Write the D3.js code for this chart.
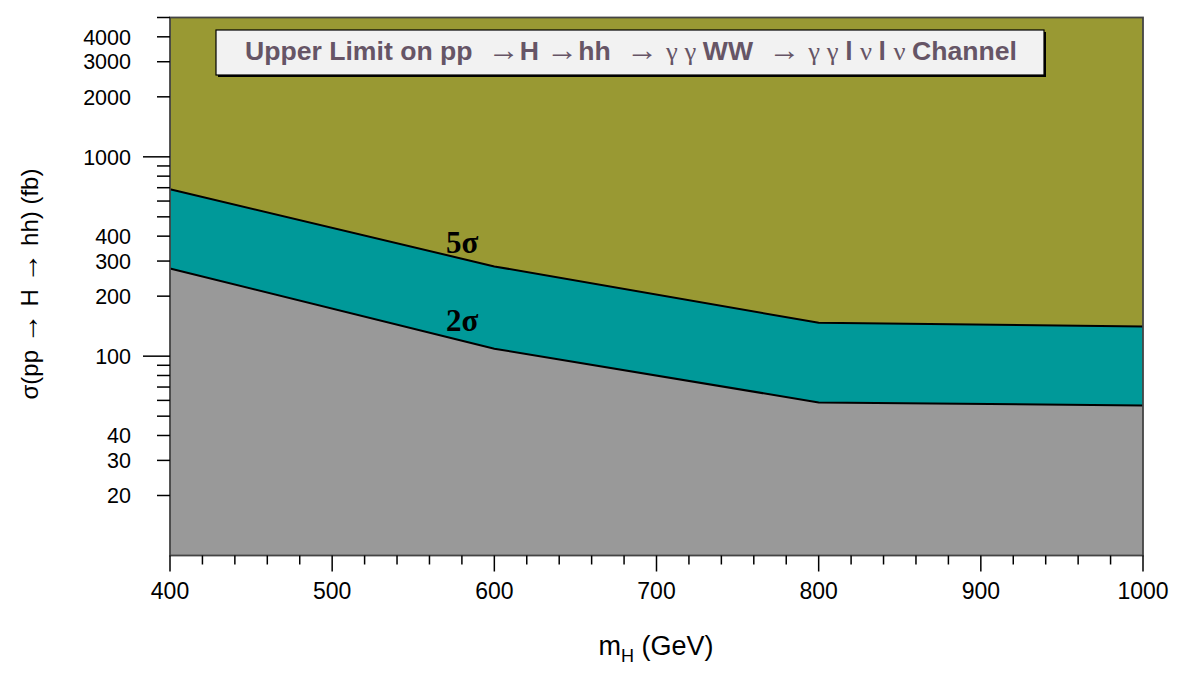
<!DOCTYPE html>
<html>
<head>
<meta charset="utf-8">
<script src="https://cdn.jsdelivr.net/npm/d3@7"></script>
<style>
  html, body { margin: 0; padding: 0; background: #fff; }
  svg { display: block; }
</style>
</head>
<body>
<svg id="chart" width="1182" height="688"></svg>
<script>
// ---- data ----
const masses = [400, 600, 800, 1000];          // m_H (GeV)
const limit5sigma = [687, 282, 147, 141];      // fb
const limit2sigma = [275, 109, 58.6, 56.6];    // fb
const xTicksMajor = [400, 500, 600, 700, 800, 900, 1000];
const yTickLabels = [20, 30, 40, 100, 200, 300, 400, 1000, 2000, 3000, 4000];
const yTicksLong = [100, 1000];
const yTicksMinor = [20, 30, 40, 50, 60, 70, 80, 90, 200, 300, 400, 500, 600, 700, 800, 900, 2000, 3000, 4000, 5000];
const titleParts = [
  ["Upper Limit on pp ", "sans"], [" \u2192", "arrow"], ["H ", "sans"], ["\u2192", "arrow"],
  ["hh ", "sans"], [" \u2192 ", "arrow"], ["\u03b3 \u03b3 ", "serif"], ["WW ", "sans"], [" \u2192 ", "arrow"], ["\u03b3 \u03b3 ", "serif"],
  ["l ", "sans"], ["\u03bd ", "serif"], ["l ", "sans"], ["\u03bd ", "serif"], ["Channel", "sans"]
];

// ---- layout ----
const L = 170, R = 1143, T = 17.5, B = 555.5;
const SANS = "Liberation Sans, Arial, sans-serif";
const SERIF = "Liberation Serif, Times New Roman, serif";
const ARROW = "DejaVu Sans, sans-serif";
const svg = d3.select("#chart");
const x = d3.scaleLinear().domain([400, 1000]).range([L, R]);
const y = d3.scaleLog().domain([10, 5000]).range([B, T]);

const pts5 = masses.map((m, i) => [m, limit5sigma[i]]);
const pts2 = masses.map((m, i) => [m, limit2sigma[i]]);

// top olive region
svg.append("path")
  .datum(pts5)
  .attr("fill", "#999933")
  .attr("d", d3.area().x(d => x(d[0])).y0(y(5000)).y1(d => y(d[1])));
// teal band
svg.append("path")
  .datum(masses.map((m, i) => [m, limit2sigma[i], limit5sigma[i]]))
  .attr("fill", "#009999")
  .attr("d", d3.area().x(d => x(d[0])).y0(d => y(d[1])).y1(d => y(d[2])));
// grey region
svg.append("path")
  .datum(pts2)
  .attr("fill", "#999999")
  .attr("d", d3.area().x(d => x(d[0])).y0(y(10)).y1(d => y(d[1])));

const line = d3.line().x(d => x(d[0])).y(d => y(d[1]));
[pts5, pts2].forEach(p => {
  svg.append("path").datum(p).attr("fill", "none").attr("stroke", "#000")
    .attr("stroke-width", 2).attr("d", line);
});

// frame
svg.append("rect").attr("x", L).attr("y", T).attr("width", R - L).attr("height", B - T)
  .attr("fill", "none").attr("stroke", "#444").attr("stroke-width", 1.8);

// x axis ticks
const xAxis = svg.append("g").attr("stroke", "#000").attr("stroke-width", 1.5);
d3.range(400, 1001, 20).forEach(v => {
  const major = v % 100 === 0;
  xAxis.append("line").attr("x1", x(v)).attr("x2", x(v))
    .attr("y1", B).attr("y2", B + (major ? 16 : 9));
});
svg.append("g").selectAll("text").data(xTicksMajor).join("text")
  .attr("x", d => x(d)).attr("y", 599)
  .attr("text-anchor", "middle")
  .attr("font-family", SANS)
  .attr("font-size", 23)
  .attr("fill", "#000")
  .text(d => d);

// y axis ticks
const yAxis = svg.append("g").attr("stroke", "#000").attr("stroke-width", 1.5);
yTicksMinor.forEach(v => {
  yAxis.append("line").attr("x1", L - 13).attr("x2", L).attr("y1", y(v)).attr("y2", y(v));
});
yTicksLong.forEach(v => {
  yAxis.append("line").attr("x1", L - 27).attr("x2", L).attr("y1", y(v)).attr("y2", y(v));
});
svg.append("g").selectAll("text").data(yTickLabels).join("text")
  .attr("x", 131).attr("y", d => y(d))
  .attr("dy", "0.36em")
  .attr("text-anchor", "end")
  .attr("font-family", SANS)
  .attr("font-size", 21.5)
  .attr("fill", "#000")
  .text(d => d);

// axis titles
const xt = svg.append("text").attr("x", 656).attr("y", 655).attr("text-anchor", "middle")
  .attr("font-family", SANS).attr("font-size", 27).attr("fill", "#000");
xt.append("tspan").text("m");
xt.append("tspan").attr("font-size", 18).attr("dy", 7).text("H");
xt.append("tspan").attr("dy", -7).text(" (GeV)");

const yt = svg.append("text")
  .attr("transform", "translate(38,284) rotate(-90)")
  .attr("text-anchor", "middle")
  .attr("font-family", SANS).attr("font-size", 24).attr("fill", "#000");
[["\u03c3(pp ", SANS, null], ["\u2192", SERIF, 30], [" H ", SANS, null], ["\u2192", SERIF, 30], [" hh) (fb)", SANS, null]]
  .forEach(([t, f, fs]) => yt.append("tspan").attr("font-family", f).attr("font-size", fs)
    .attr("xml:space", "preserve").text(t));

// band labels
[["5\u03c3", 253], ["2\u03c3", 331]].forEach(([t, yy]) => {
  svg.append("text").attr("x", 446).attr("y", yy)
    .attr("font-family", SERIF)
    .attr("font-weight", "bold").attr("font-size", 31).attr("fill", "#000").text(t);
});

// title box
const bx = 216, by = 30, bw = 828, bh = 45;
svg.append("rect").attr("x", bx + 2).attr("y", by + 2).attr("width", bw).attr("height", bh).attr("fill", "#000");
svg.append("rect").attr("x", bx).attr("y", by).attr("width", bw).attr("height", bh)
  .attr("fill", "#f2f2f2").attr("stroke", "#000").attr("stroke-width", 1.2);
const tt = svg.append("text").attr("x", 245).attr("y", 60)
  .attr("font-size", 25).attr("fill", "#665566");
titleParts.forEach(([t, f]) => {
  tt.append("tspan")
    .attr("font-family", f === "sans" ? SANS : SERIF)
    .attr("font-weight", f === "sans" ? "bold" : "normal")
    .attr("font-size", f === "arrow" ? 30 : null)
    .attr("xml:space", "preserve")
    .text(t);
});
tt.attr("textLength", 772).attr("lengthAdjust", "spacingAndGlyphs");
</script>
</body>
</html>
